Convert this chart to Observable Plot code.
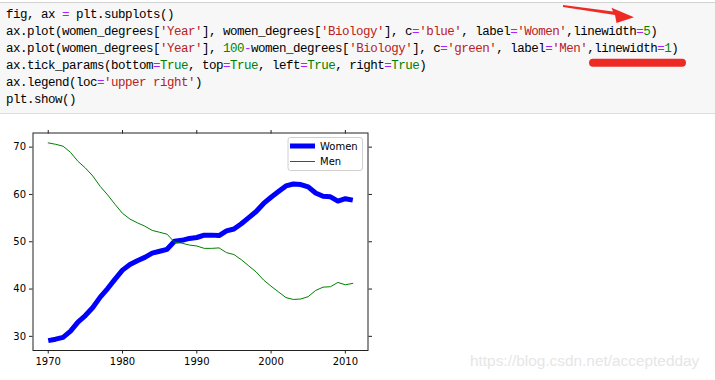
<!DOCTYPE html>
<html>
<head>
<meta charset="utf-8">
<script src="https://cdn.jsdelivr.net/npm/d3@7"></script>
<script src="https://cdn.jsdelivr.net/npm/@observablehq/plot@0.6"></script>
<style>
  html, body { margin: 0; padding: 0; background: #fff; }
  #page { position: relative; width: 715px; height: 380px; overflow: hidden; background: #fff; }
  #code {
    position: absolute; left: 0; top: 2px; width: 715px; height: 112px;
    background: #f7f7f7; border-top: 1px solid #d2d2d2; border-bottom: 1px solid #dedede;
    box-sizing: border-box; padding: 4px 0 0 6px;
    font-family: "Liberation Mono", "DejaVu Sans Mono", monospace; font-size: 12.5px;
    letter-spacing: -0.5px; line-height: 17px; color: #000; white-space: pre;
  }
  .op { color: #aa22ff; } .str { color: #ba2121; } .num { color: #008800; } .kw { color: #008000; }
  #chart { position: absolute; left: 0; top: 115px; }
  #annot { position: absolute; left: 0; top: 0; pointer-events: none; }
  #legend { position: absolute; left: 0; top: 0; pointer-events: none; }
  #wm { position: absolute; left: 470px; top: 352px; font-family: "Liberation Sans", Arial, sans-serif;
        font-size: 15.4px; color: #e6e6e6; white-space: nowrap; }
</style>
</head>
<body>
<div id="page">
  <div id="code"></div>
  <div id="chart"></div>
  <div id="wm">https://blog.csdn.net/acceptedday</div>
</div>
<script>
// ---- data ----
const years = [1970,1971,1972,1973,1974,1975,1976,1977,1978,1979,1980,1981,1982,1983,1984,1985,1986,1987,1988,1989,1990,1991,1992,1993,1994,1995,1996,1997,1998,1999,2000,2001,2002,2003,2004,2005,2006,2007,2008,2009,2010,2011];
const women = [29.1,29.4,29.8,31.1,33.0,34.4,36.1,38.3,40.1,42.1,44.0,45.2,46.0,46.7,47.6,48.0,48.4,50.1,50.3,50.7,50.9,51.4,51.4,51.3,52.3,52.7,53.8,55.1,56.4,58.1,59.4,60.6,61.8,62.2,62.1,61.6,60.3,59.6,59.5,58.6,59.1,58.8];
const men   = [70.9,70.6,70.2,68.9,67.0,65.6,63.9,61.7,59.9,57.9,56.0,54.8,54.0,53.3,52.4,52.0,51.6,49.9,49.7,49.3,49.1,48.6,48.6,48.7,47.7,47.3,46.2,44.9,43.6,41.9,40.6,39.4,38.2,37.8,37.9,38.4,39.7,40.4,40.5,41.4,40.9,41.2];
const seriesNames = ["Women", "Men"];
const seriesColors = ["#0000ff", "#008000"];
const seriesWidths = [5, 1];
const xTicks = [1970, 1980, 1990, 2000, 2010];
const yTicks = [30, 40, 50, 60, 70];
const codeLines = [
  [["fig, ax "],["=","op"],[" plt.subplots()"]],
  [["ax.plot(women_degrees["],["'Year'","str"],["], women_degrees["],["'Biology'","str"],["], c"],["=","op"],["'blue'","str"],[", label"],["=","op"],["'Women'","str"],[",linewidth"],["=","op"],["5","num"],[")"]],
  [["ax.plot(women_degrees["],["'Year'","str"],["], "],["100","num"],["-","op"],["women_degrees["],["'Biology'","str"],["], c"],["=","op"],["'green'","str"],[", label"],["=","op"],["'Men'","str"],[",linewidth"],["=","op"],["1","num"],[")"]],
  [["ax.tick_params(bottom"],["=","op"],["True","kw"],[", top"],["=","op"],["True","kw"],[", left"],["=","op"],["True","kw"],[", right"],["=","op"],["True","kw"],[")"]],
  [["ax.legend(loc"],["=","op"],["'upper right'","str"],[")"]],
  [["plt.show()"]]
];

// ---- code cell ----
const codeEl = document.getElementById("code");
codeLines.forEach(line => {
  const div = document.createElement("div");
  line.forEach(([t, c]) => {
    const s = document.createElement("span");
    if (c) s.className = c;
    s.textContent = t;
    div.appendChild(s);
  });
  codeEl.appendChild(div);
});

// ---- chart ----
const data = [];
years.forEach((y, i) => {
  data.push({year: y, value: women[i], series: seriesNames[0]});
});
years.forEach((y, i) => {
  data.push({year: y, value: men[i], series: seriesNames[1]});
});

const W = 715, H = 265;
const mTop = 17.5, mBottom = 30, mLeft = 32.5, mRight = 347.5;
const xMin = d3.min(years), xMax = d3.max(years);
const xPad = (xMax - xMin) * 0.05;
const allV = women.concat(men);
const yMin = d3.min(allV), yMax = d3.max(allV);
const yPad = (yMax - yMin) * 0.05;
const font = "DejaVu Sans, sans-serif";

const chart = Plot.plot({
  width: W, height: H,
  marginTop: mTop, marginBottom: mBottom, marginLeft: mLeft, marginRight: mRight,
  style: {fontFamily: font, fontSize: "10px", color: "#000", background: "transparent", overflow: "visible"},
  x: {domain: [xMin - xPad, xMax + xPad], label: null},
  y: {domain: [yMin - yPad, yMax + yPad], label: null},
  marks: [
    Plot.line(data.filter(d => d.series === seriesNames[0]), {x: "year", y: "value", stroke: seriesColors[0], strokeWidth: seriesWidths[0], strokeLinejoin: "round", strokeLinecap: "butt"}),
    Plot.line(data.filter(d => d.series === seriesNames[1]), {x: "year", y: "value", stroke: seriesColors[1], strokeWidth: seriesWidths[1], strokeLinejoin: "round"}),
    Plot.axisX({anchor: "bottom", ticks: xTicks, tickFormat: "d", tickSize: 3.5, tickPadding: 3.5, label: null, fontSize: 10, stroke: "#222"}),
    Plot.axisX({anchor: "top", ticks: xTicks, tickFormat: () => "", tickSize: 3.5, label: null, stroke: "#222"}),
    Plot.axisY({anchor: "left", ticks: yTicks, tickSize: 3.5, tickPadding: 3.5, label: null, fontSize: 10, stroke: "#222"}),
    Plot.axisY({anchor: "right", ticks: yTicks, tickFormat: () => "", tickSize: 3.5, label: null, stroke: "#222"}),
    Plot.frame({stroke: "#222", strokeWidth: 1})
  ]
});
document.getElementById("chart").appendChild(chart);

// ---- legend (upper right, inside axes) ----
const xs = chart.scale("x"), ys = chart.scale("y");
const axRight = xs.apply(xMax + xPad) , axTop = ys.apply(yMax + yPad) + 115;
const leg = d3.select("#page").append("svg").attr("id", "legend")
  .attr("width", W).attr("height", 380);
const lx = axRight - 79.5, ly = axTop + 5;
leg.append("rect").attr("x", lx).attr("y", ly).attr("width", 74.5).attr("height", 33)
  .attr("rx", 2.5).attr("fill", "#fff").attr("fill-opacity", 0.8).attr("stroke", "#d0d0d0").attr("stroke-width", 1);
seriesNames.forEach((name, i) => {
  const cy = ly + 8.5 + i * 15.5;
  leg.append("line").attr("x1", lx + 2).attr("x2", lx + 27).attr("y1", cy).attr("y2", cy)
    .attr("stroke", seriesColors[i]).attr("stroke-width", seriesWidths[i]);
  leg.append("text").attr("x", lx + 32).attr("y", cy).attr("dy", "0.35em")
    .attr("font-family", font).attr("font-size", 10).attr("fill", "#000").text(name);
});

// ---- screenshot annotations (red arrow + underline) ----
const an = d3.select("#page").append("svg").attr("id", "annot").attr("width", W).attr("height", 380);
an.append("path").attr("d", "M563,5 L613,11.5 L611.5,7.8 L634,17.3 L616.5,23 L615,15 L563,7 Z").attr("fill", "#ee2a24");
an.append("line").attr("x1", 593).attr("x2", 682).attr("y1", 62.7).attr("y2", 62.7)
  .attr("stroke", "#ee2a24").attr("stroke-width", 8).attr("stroke-linecap", "round");
</script>
</body>
</html>
